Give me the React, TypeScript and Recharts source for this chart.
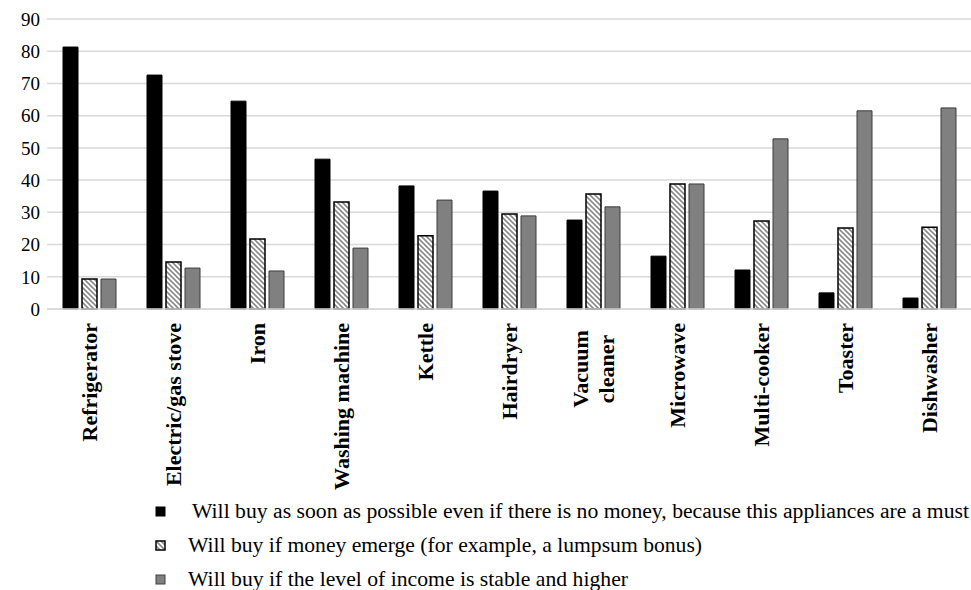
// Purchase intentions for household appliances
import { BarChart, Bar, XAxis, YAxis, CartesianGrid, Legend } from "recharts";

const appliances = [
  "Refrigerator",
  "Electric/gas stove",
  "Iron",
  "Washing machine",
  "Kettle",
  "Hairdryer",
  "Vacuum cleaner",
  "Microwave",
  "Multi-cooker",
  "Toaster",
  "Dishwasher",
];

const mustBuy = [81.3, 72.6, 64.5, 46.5, 38.2, 36.6, 27.6, 16.4, 12.1, 5.0, 3.4];
const ifMoney = [9.3, 14.6, 21.7, 33.2, 22.7, 29.5, 35.7, 38.8, 27.3, 25.1, 25.4];
const ifStable = [9.3, 12.7, 11.8, 18.9, 33.8, 28.9, 31.7, 38.8, 52.8, 61.5, 62.4];

const yTicks = [0, 10, 20, 30, 40, 50, 60, 70, 80, 90];

const seriesNames = [
  "Will buy as soon as possible even if there is no money, because this appliances are a must",
  "Will buy if money emerge (for example, a lumpsum bonus)",
  "Will buy if the level of income is stable and higher",
];

const chartData = appliances.map((name, i) => ({
  name,
  must: mustBuy[i],
  money: ifMoney[i],
  stable: ifStable[i],
}));

const FONT = "Liberation Serif, Times New Roman, serif";

function CategoryTick(props: any) {
  const { x, y, payload } = props;
  const label: string = payload.value;
  const lines = label === "Vacuum cleaner" ? ["Vacuum", "cleaner"] : [label];
  return (
    <g transform={`translate(${x},${y + 6})`}>
      {lines.map((line, i) => (
        <text
          key={line}
          transform="rotate(-90)"
          x={0}
          y={(i - (lines.length - 1) / 2) * 26}
          dy="0.35em"
          textAnchor={lines.length > 1 ? "middle" : "end"}
          dx={lines.length > 1 ? -46 : 0}
          fontFamily={FONT}
          fontWeight="bold"
          fontSize={22}
          fill="#000"
        >
          {line}
        </text>
      ))}
    </g>
  );
}

function HatchPattern({ id }: { id: string }) {
  return (
    <pattern id={id} width={5} height={5} patternUnits="userSpaceOnUse">
      <rect width={5} height={5} fill="#fff" />
      <path
        d="M0,0 L5,5 M-1,4 L1,6 M4,-1 L6,1"
        stroke="#8a8a8a"
        strokeWidth={1.6}
      />
    </pattern>
  );
}

function LegendContent() {
  const icons = [
    <rect key="a" x={1} y={1} width={9} height={9} fill="#000" stroke="#000" />,
    <rect key="b" x={1} y={1} width={9} height={9} fill="url(#hatchLegend)" stroke="#000" strokeWidth={1.5} />,
    <rect key="c" x={1} y={1} width={9} height={9} fill="#808080" stroke="#404040" />,
  ];
  // the legend text in the original is set a little condensed
  const textLeft = [192, 188, 188];
  const textWidth = [777, 514, 440];
  const textSize = [21.3, 22, 22];
  return (
    <svg width={971} height={100} style={{ display: "block" }}>
      <defs>
        <HatchPattern id="hatchLegend" />
      </defs>
      {seriesNames.map((name, i) => (
        <g key={name}>
          <g transform={`translate(155, ${16 + i * 34})`}>{icons[i]}</g>
          <text
            x={textLeft[i]}
            y={28 + i * 34}
            fontFamily={FONT}
            fontSize={textSize[i]}
            fill="#000"
            textLength={textWidth[i]}
            lengthAdjust="spacingAndGlyphs"
          >
            {name}
          </text>
        </g>
      ))}
    </svg>
  );
}

export default function App() {
  return (
    <div style={{ position: "absolute", left: 0, top: 0, width: 971, height: 590, background: "#fff" }}>
      <BarChart
        width={971}
        height={590}
        data={chartData}
        margin={{ top: 19, right: 0, left: 0, bottom: 0 }}
        barSize={15}
        barGap={4}
      >
        <defs>
          <HatchPattern id="hatchBar" />
        </defs>
        <CartesianGrid vertical={false} stroke="#d9d9d9" strokeWidth={1.5} />
        <XAxis
          dataKey="name"
          height={281}
          interval={0}
          tickLine={false}
          axisLine={{ stroke: "#d9d9d9", strokeWidth: 1.5 }}
          tick={<CategoryTick />}
        />
        <YAxis
          width={47}
          domain={[0, 90]}
          ticks={yTicks}
          interval={0}
          axisLine={false}
          tickLine={false}
          tickSize={0}
          tickMargin={7}
          tick={{ fontFamily: FONT, fontSize: 19, fill: "#000" }}
        />
        <Legend
          layout="vertical"
          align="center"
          verticalAlign="middle"
          wrapperStyle={{ top: 490, left: 0, width: 971 }}
          content={<LegendContent />}
        />
        <Bar
          dataKey="must"
          name={seriesNames[0]}
          fill="#000"
          stroke="#000"
          strokeWidth={1}
          isAnimationActive={false}
        />
        <Bar
          dataKey="money"
          name={seriesNames[1]}
          fill="url(#hatchBar)"
          stroke="#000"
          strokeWidth={1.5}
          isAnimationActive={false}
        />
        <Bar
          dataKey="stable"
          name={seriesNames[2]}
          fill="#808080"
          stroke="#3a3a3a"
          strokeWidth={1}
          isAnimationActive={false}
        />
      </BarChart>
    </div>
  );
}
